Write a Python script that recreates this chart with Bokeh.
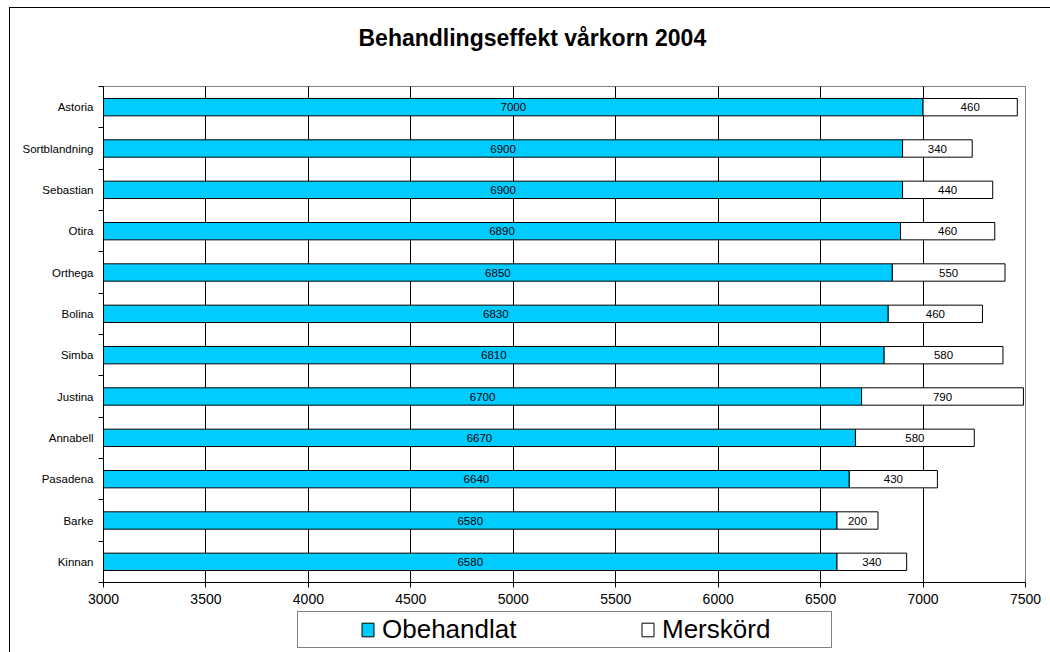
from bokeh.plotting import figure
from bokeh.layouts import column
from bokeh.models import FixedTicker, Legend, LegendItem, ColumnDataSource, Range1d
from bokeh.core.properties import value
from bokeh.embed import file_html
from bokeh.resources import INLINE

# ---- data (top to bottom as in the chart) ----
categories = ["Astoria", "Sortblandning", "Sebastian", "Otira", "Orthega", "Bolina",
              "Simba", "Justina", "Annabell", "Pasadena", "Barke", "Kinnan"]
obehandlat = [7000, 6900, 6900, 6890, 6850, 6830, 6810, 6700, 6670, 6640, 6580, 6580]
merskord = [460, 340, 440, 460, 550, 460, 580, 790, 580, 430, 200, 340]
x_ticks = [3000, 3500, 4000, 4500, 5000, 5500, 6000, 6500, 7000, 7500]
title_text = "Behandlingseffekt vårkorn 2004"
series_names = ["Obehandlat", "Merskörd"]
series_colors = ["#00CCFF", "white"]

FONT = "Liberation Sans"
n = len(categories)
x_start, x_end = x_ticks[0], x_ticks[-1]
ypos = [n - 0.5 - i for i in range(n)]
totals = [a + b for a, b in zip(obehandlat, merskord)]

src = ColumnDataSource(dict(
    y=ypos, obeh=obehandlat, mer=merskord, total=totals,
    obeh_lx=[(max(0, x_start) + a) / 2 for a in obehandlat],
    mer_lx=[a + b / 2 for a, b in zip(obehandlat, merskord)],
    obeh_txt=[str(v) for v in obehandlat],
    mer_txt=[str(v) for v in merskord],
))

W = 1040

# ---- title strip on top (its frame is aligned with the chart frame) ----
p0 = figure(width=W, height=62, x_range=Range1d(0, 1), y_range=Range1d(0, 1),
            output_backend="svg", toolbar_location=None,
            min_border_left=0, min_border_right=0, min_border_top=0, min_border_bottom=0)
p0.axis.visible = False
p0.grid.visible = False
p0.outline_line_color = None
p0.background_fill_color = "white"
p0.border_fill_color = "white"
p0.title.text = title_text
p0.title.align = "left"
p0.title.offset = 255
p0.title.vertical_align = "bottom"
p0.title.text_font = FONT
p0.title.text_font_size = "23px"
p0.title.text_font_style = "bold"
p0.title.text_color = "black"
p0.title.standoff = 29

p = figure(width=W, height=540,
           x_range=Range1d(x_start, x_end), y_range=Range1d(0, n),
           output_backend="svg", toolbar_location=None,
           min_border_left=93, min_border_right=25,
           min_border_top=16, min_border_bottom=28)

p.background_fill_color = "white"
p.border_fill_color = "white"
p.outline_line_color = "#808080"
p.outline_line_width = 1

r1 = p.hbar(y="y", left=0, right="obeh", height=0.42, source=src,
            fill_color=series_colors[0], line_color="black", line_width=1)
r2 = p.hbar(y="y", left="obeh", right="total", height=0.42, source=src,
            fill_color=series_colors[1], line_color="black", line_width=1)

p.text(x="obeh_lx", y="y", text="obeh_txt", source=src, text_align="center",
       text_baseline="middle", text_font=value(FONT), text_font_size="11.5px",
       text_color="black")
p.text(x="mer_lx", y="y", text="mer_txt", source=src, text_align="center",
       text_baseline="middle", text_font=value(FONT), text_font_size="11.5px",
       text_color="black")

# x axis
xa = p.xaxis[0]
xa.ticker = FixedTicker(ticks=x_ticks)
xa.axis_line_color = "black"
xa.major_tick_line_color = "black"
xa.major_tick_out = 5
xa.major_tick_in = 0
xa.minor_tick_line_color = None
xa.major_label_text_font = FONT
xa.major_label_text_font_size = "14px"
xa.major_label_text_color = "black"
xa.major_label_standoff = 6

# y axis
ya = p.yaxis[0]
ya.ticker = FixedTicker(ticks=ypos, minor_ticks=list(range(n + 1)))
ya.major_label_overrides = {y: c for y, c in zip(ypos, categories)}
ya.axis_line_color = "black"
ya.major_tick_line_color = None
ya.major_tick_out = 5
ya.major_tick_in = 0
ya.minor_tick_line_color = "black"
ya.minor_tick_out = 5
ya.minor_tick_in = 0
ya.major_label_text_font = FONT
ya.major_label_text_font_size = "11.5px"
ya.major_label_text_color = "black"
ya.major_label_standoff = 5

# grids
p.ygrid.visible = False
p.xgrid.ticker = FixedTicker(ticks=x_ticks[1:-1])
p.xgrid.grid_line_color = "black"
p.xgrid.grid_line_width = 1

# ---- legend strip below the chart (its frame is aligned with the chart frame) ----
p2 = figure(width=W, height=42, x_range=Range1d(0, 1), y_range=Range1d(50, 51),
            output_backend="svg", toolbar_location=None,
            min_border_left=0, min_border_right=0, min_border_top=0, min_border_bottom=0)
p2.axis.visible = False
p2.grid.visible = False
p2.outline_line_color = None
p2.background_fill_color = "white"
p2.border_fill_color = "white"
# same series, drawn outside the strip's visible range; used only for legend swatches
lr1 = p2.hbar(y="y", left=0, right="obeh", height=0.42, source=src,
              fill_color=series_colors[0], line_color="black", line_width=1)
lr2 = p2.hbar(y="y", left="obeh", right="total", height=0.42, source=src,
              fill_color=series_colors[1], line_color="black", line_width=1)

legend = Legend(items=[LegendItem(label=series_names[0], renderers=[lr1]),
                       LegendItem(label=series_names[1], renderers=[lr2])],
                orientation="horizontal", location=(194, 4))
legend.title = "\u00a0"
legend.title_location = "left"
legend.title_text_font_size = "1px"
legend.title_standoff = 59
legend.label_text_font = FONT
legend.label_text_font_size = "26px"
legend.label_text_color = "black"
legend.glyph_width = 15
legend.glyph_height = 17
legend.label_standoff = 7
legend.label_width = 167
legend.spacing = 91
legend.padding = 2
legend.margin = 0
legend.border_line_color = "black"
legend.border_line_width = 1
legend.background_fill_color = "white"
legend.background_fill_alpha = 1
p2.add_layout(legend, "center")

layout = column(p0, p, p2, spacing=0, margin=(7, 0, 0, 9),
                styles={"border-left": "1px solid black", "border-top": "1px solid black"})

open("out.html", "w").write(file_html(layout, INLINE))
